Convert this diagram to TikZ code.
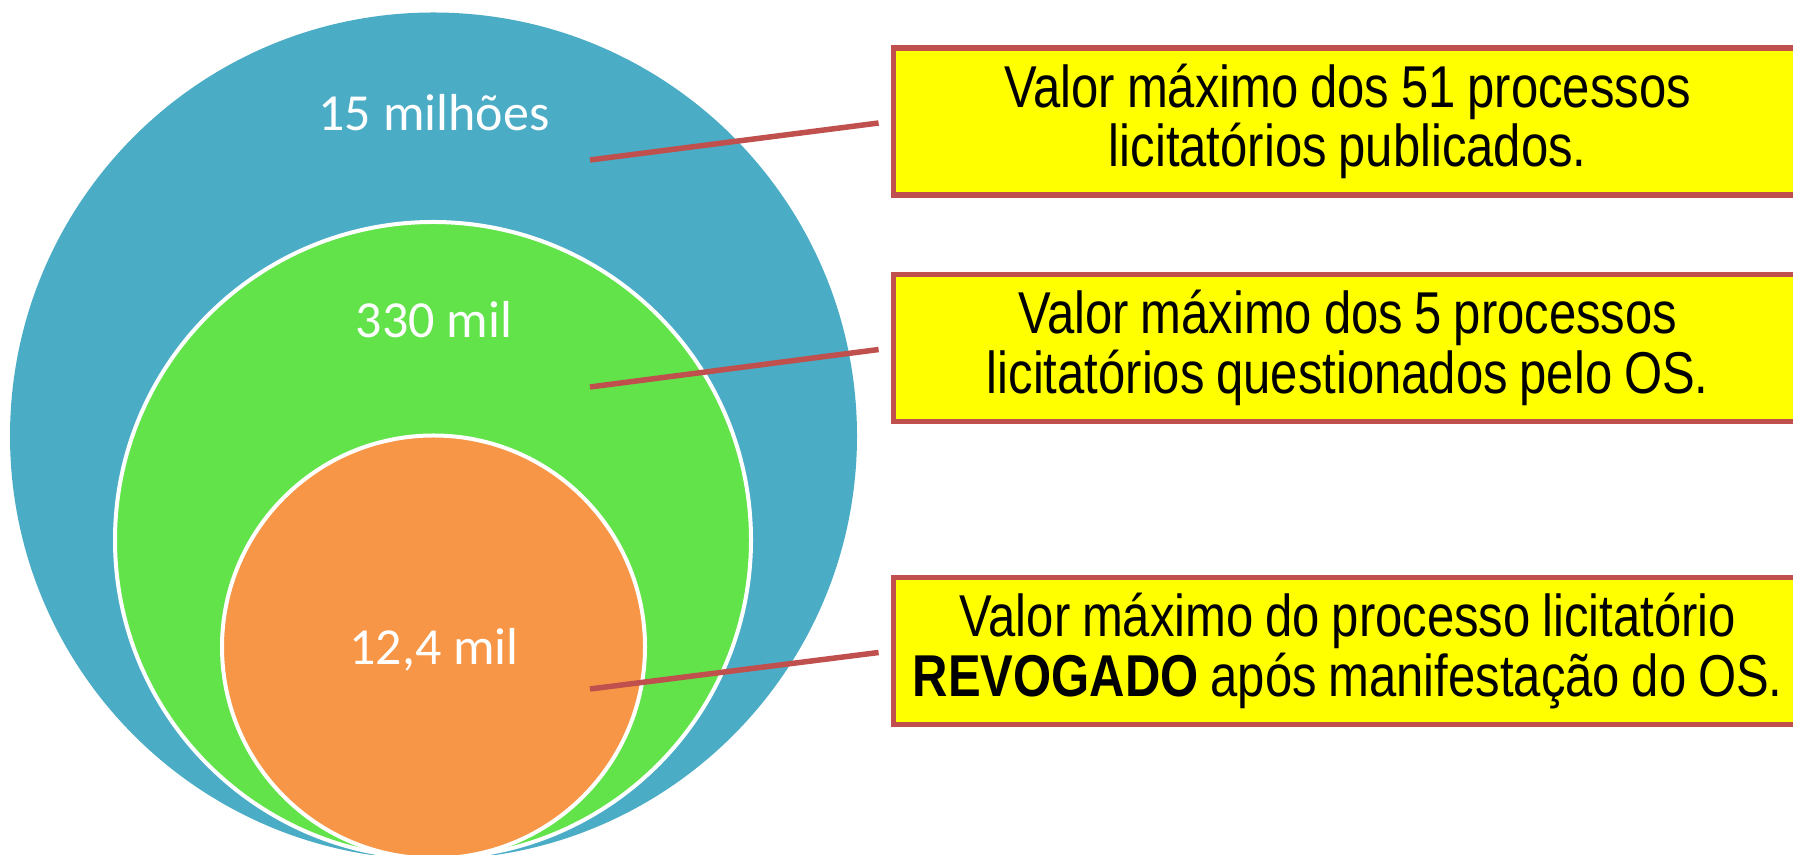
\documentclass[tikz,border=0pt]{standalone}
\usepackage{fontspec}
\newfontfamily\circfont{Carlito}
\newfontfamily\boxfont[FakeStretch=0.83]{Liberation Sans}
\definecolor{azul}{HTML}{4BACC6}
\definecolor{verde}{HTML}{62E34A}
\definecolor{laranja}{HTML}{F79646}
\definecolor{linha}{HTML}{C0504D}
\definecolor{amarelo}{HTML}{FFFF00}
\tikzset{
circ/.style={circle,inner sep=0,draw=white,line width=0.04cm},
rotulo/.style={text=white,anchor=base,font=\circfont\fontsize{14.8}{17}\selectfont},
caixa/.style={draw=linha,fill=amarelo,line width=0.055cm,inner sep=0,anchor=west,
  text width=9.09cm,minimum height=1.47cm,align=center,
  font=\boxfont\fontsize{16.8}{15.1}\selectfont},
liga/.style={draw=linha,line width=0.055cm,shorten >=0.12cm}
}
\begin{document}
\begin{tikzpicture}
\useasboundingbox (0,0) rectangle (17.93,8.55);
\clip (0,0) rectangle (17.93,8.55);
\node[circ,fill=azul,draw=none,minimum size=8.47cm] (C1) at (4.335,4.19) {};
\node[circ,fill=verde,minimum size=6.36cm] (C2) at (4.33,3.15) {};
\node[circ,fill=laranja,minimum size=4.23cm] (C3) at (4.335,2.08) {};
\node[rotulo] (R1) at (4.34,7.24) {15 milhões};
\node[rotulo] (R2) at (4.34,5.17) {330 mil};
\node[rotulo] (R3) at (4.34,1.90) {12,4 mil};
\foreach\i/\y/\p/\t in {1/7.335/6.95/{Valor máximo dos 51 processos\\licitatórios publicados.},
  2/5.07/4.68/{Valor máximo dos 5 processos\\licitatórios questionados pelo OS.},
  3/2.04/1.66/{Valor máximo do processo licitatório\\\textbf{REVOGADO} após manifestação do OS.}} {
\node[caixa] (B\i) at (8.905,\y) {\spaceskip=0.2em\relax\t};
\coordinate (P\i) at (5.90,\p);
\draw[liga] (P\i)--(B\i.west);}
\end{tikzpicture}
\end{document}
